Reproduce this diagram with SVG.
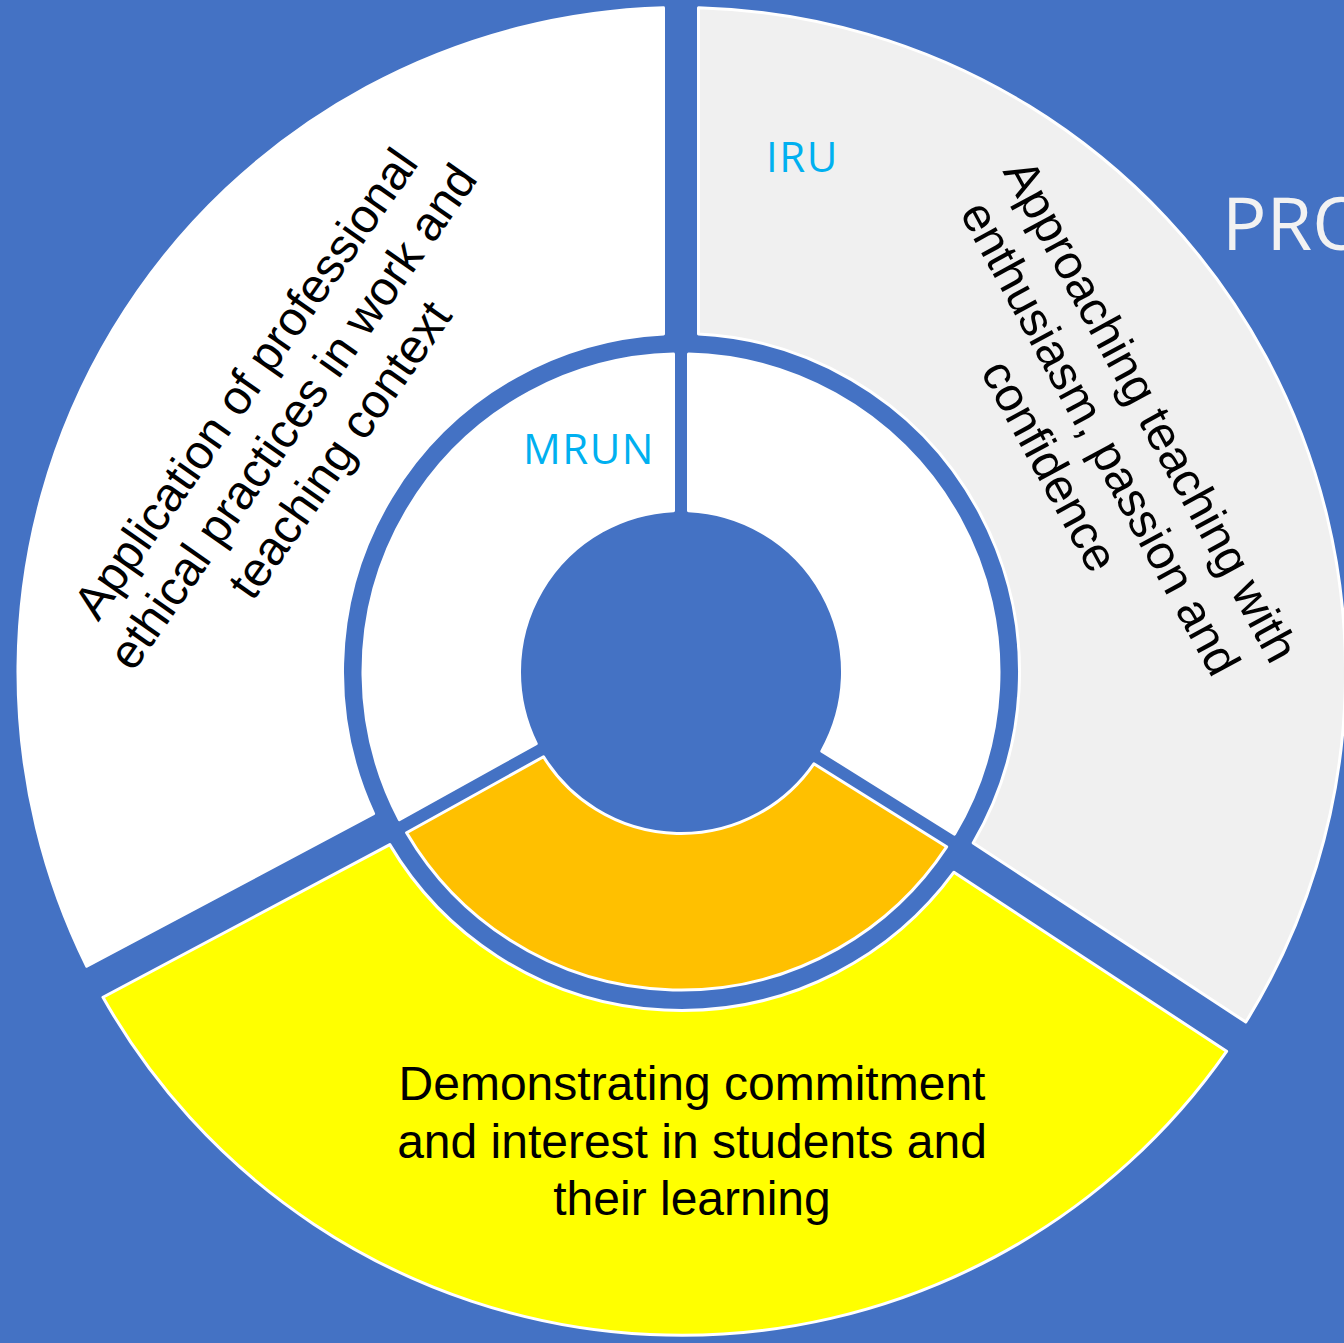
<svg xmlns="http://www.w3.org/2000/svg" width="1344" height="1343" viewBox="0 0 1344 1343">
  <style>
    .seg { stroke: #FFFFFF; stroke-width: 3; stroke-linejoin: round; }
    .body { font-family: "Liberation Sans", Arial, sans-serif; font-size: 48px; fill: #000000; text-anchor: middle; }
    .tag { font-family: "Open Sans", "Noto Sans", sans-serif; font-size: 42px; letter-spacing: 1.5px; fill: #00B0F0; }
    .title { font-family: "Open Sans", "Noto Sans", sans-serif; font-size: 74px; fill: #F2F2F2; }
  </style>
  <rect id="background" x="0" y="0" width="1344" height="1343" fill="#4472C4"/>

  <g id="outer-left">
    <path class="seg" fill="#FFFFFF" d="M86.73,966.29 A664.5,664.5 0 0 1 663.5,7.73 L663.5,333.95 A338.5,338.5 0 0 0 373.56,813.65 Z"/>
    <g class="body" transform="translate(306,426) rotate(-55)">
      <text x="0" y="-57.5">Application of professional</text>
      <text x="0" y="0">ethical practices in work and</text>
      <text x="0" y="57.5">teaching context</text>
    </g>
  </g>

  <g id="outer-right">
    <path class="seg" fill="#F0F0F0" d="M698.5,7.73 A664.5,664.5 0 0 1 1245.81,1022.07 L973.16,842.97 A338.5,338.5 0 0 0 698.5,333.95 Z"/>
    <text class="tag" x="766" y="172">IRU</text>
    <g class="body" transform="translate(1086,446) rotate(61.5)">
      <text x="0" y="-57.5">Approaching teaching with</text>
      <text x="0" y="0">enthusiasm, passion and</text>
      <text x="0" y="57.5">confidence</text>
    </g>
  </g>

  <g id="outer-bottom">
    <path class="seg" fill="#FFFF00" d="M1226.59,1051.33 A664.5,664.5 0 0 1 102.99,997.27 L389.82,844.63 A338.5,338.5 0 0 0 953.94,872.23 Z"/>
    <g class="body">
      <text x="692" y="1100">Demonstrating commitment</text>
      <text x="692" y="1157.5">and interest in students and</text>
      <text x="692" y="1215">their learning</text>
    </g>
  </g>

  <g id="inner-left">
    <path class="seg" fill="#FFFFFF" d="M399.31,819.57 A318,318 0 0 1 673.5,354.09 L673.5,510.67 A161.5,161.5 0 0 0 536.26,743.65 Z"/>
    <text class="tag" x="523" y="464">MRUN</text>
  </g>

  <g id="inner-right">
    <path class="seg" fill="#FFFFFF" d="M688.5,354.09 A318,318 0 0 1 954.57,834.11 L821.79,751.13 A161.5,161.5 0 0 0 688.5,510.67 Z"/>
  </g>

  <g id="inner-bottom">
    <path class="seg" fill="#FFC000" d="M946.63,846.83 A318,318 0 0 1 406.59,832.69 L543.54,756.77 A161.5,161.5 0 0 0 813.85,763.85 Z"/>
  </g>

  <g id="title">
    <text class="title" x="1222" y="250">PRO</text>
  </g>
</svg>
